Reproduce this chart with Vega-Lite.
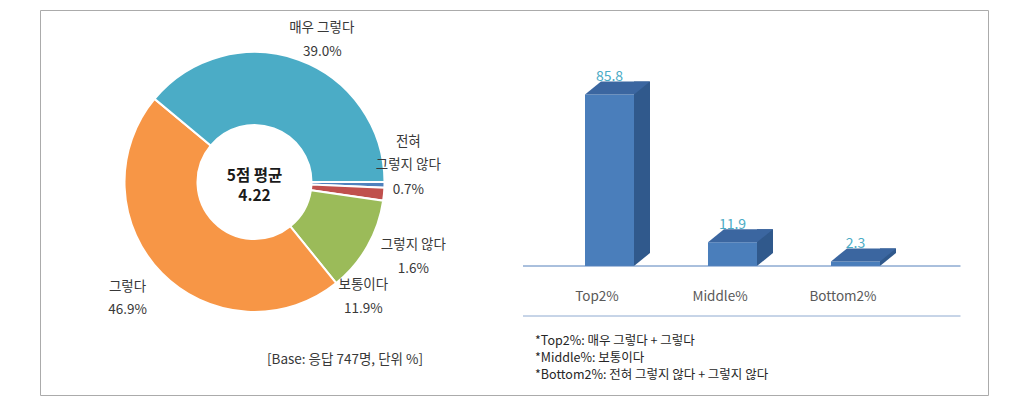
{
  "$schema": "https://vega.github.io/schema/vega-lite/v6.json",
  "width": 1025,
  "height": 404,
  "autosize": {"type": "fit", "contains": "padding"},
  "padding": {"left": 40, "top": 10, "right": 37, "bottom": 9},
  "background": "white",
  "config": {
    "view": {"stroke": "#ABABAB", "strokeWidth": 1},
    "font": "Noto Sans CJK KR",
    "text": {"font": "Noto Sans CJK KR"}
  },
  "datasets": {
    "answers": [
      {"answer": "전혀 그렇지 않다", "score": 1, "share": 0.007},
      {"answer": "그렇지 않다", "score": 2, "share": 0.016},
      {"answer": "보통이다", "score": 3, "share": 0.119},
      {"answer": "그렇다", "score": 4, "share": 0.469},
      {"answer": "매우 그렇다", "score": 5, "share": 0.390}
    ],
    "groups": [
      {"group": "Top2%", "value": 85.8},
      {"group": "Middle%", "value": 11.9},
      {"group": "Bottom2%", "value": 2.3}
    ]
  },
  "layer": [
    {
      "data": {"name": "answers"},
      "transform": [
        {"stack": "share", "groupby": [], "sort": [{"field": "score", "order": "ascending"}], "as": ["s0", "s1"]}
      ],
      "layer": [
        {
          "mark": {"type": "arc", "radius": 130, "radius2": 57, "stroke": "white", "strokeWidth": 2, "xOffset": -259.5, "yOffset": -20.5},
          "encoding": {
            "theta": {"field": "s0", "type": "quantitative", "scale": {"domain": [0, 1.001], "range": [1.5708, 7.854]}},
            "theta2": {"field": "s1"},
            "color": {
              "field": "answer",
              "type": "nominal",
              "legend": null,
              "scale": {
                "domain": ["전혀 그렇지 않다", "그렇지 않다", "보통이다", "그렇다", "매우 그렇다"],
                "range": ["#4F81BD", "#C0504D", "#9BBB59", "#F79646", "#4BACC6"]
              }
            }
          }
        },
        {
          "transform": [{"filter": "datum.score == 1"}],
          "layer": [
            {
              "mark": {"type": "text", "radius": 150, "xOffset": -259.5, "yOffset": -20.5, "dx": 3.8, "dy": -40, "fontSize": 13.5, "lineHeight": 23.3, "color": "#383838", "baseline": "middle"},
              "encoding": {"theta": {"field": "s0", "type": "quantitative"}, "text": {"value": ["전혀", "그렇지 않다"]}}
            },
            {
              "mark": {"type": "text", "radius": 150, "xOffset": -259.5, "yOffset": -20.5, "dx": 3.8, "dy": 7.7, "fontSize": 13.5, "color": "#383838", "baseline": "middle"},
              "encoding": {"theta": {"field": "s0", "type": "quantitative"}, "text": {"field": "share", "format": ".1%"}}
            }
          ]
        },
        {
          "transform": [{"filter": "datum.score == 2"}],
          "layer": [
            {
              "mark": {"type": "text", "radius": 150, "xOffset": -259.5, "yOffset": -20.5, "dx": 9, "dy": 56.7, "fontSize": 13.5, "color": "#383838", "baseline": "middle"},
              "encoding": {"theta": {"field": "s0", "type": "quantitative"}, "text": {"field": "answer"}}
            },
            {
              "mark": {"type": "text", "radius": 150, "xOffset": -259.5, "yOffset": -20.5, "dx": 9, "dy": 80.7, "fontSize": 13.5, "color": "#383838", "baseline": "middle"},
              "encoding": {"theta": {"field": "s0", "type": "quantitative"}, "text": {"field": "share", "format": ".1%"}}
            }
          ]
        },
        {
          "transform": [{"filter": "datum.score == 3"}],
          "layer": [
            {
              "mark": {"type": "text", "radius": 150, "xOffset": -259.5, "yOffset": -20.5, "dx": -39.6, "dy": 81.7, "fontSize": 13.5, "color": "#383838", "baseline": "middle"},
              "encoding": {"theta": {"field": "s0", "type": "quantitative"}, "text": {"field": "answer"}}
            },
            {
              "mark": {"type": "text", "radius": 150, "xOffset": -259.5, "yOffset": -20.5, "dx": -39.6, "dy": 105.1, "fontSize": 13.5, "color": "#383838", "baseline": "middle"},
              "encoding": {"theta": {"field": "s0", "type": "quantitative"}, "text": {"field": "share", "format": ".1%"}}
            }
          ]
        },
        {
          "transform": [{"filter": "datum.score == 4"}],
          "layer": [
            {
              "mark": {"type": "text", "radius": 150, "xOffset": -259.5, "yOffset": -20.5, "dx": -221.2, "dy": -11.5, "fontSize": 13.5, "color": "#383838", "baseline": "middle"},
              "encoding": {"theta": {"field": "s0", "type": "quantitative"}, "text": {"field": "answer"}}
            },
            {
              "mark": {"type": "text", "radius": 150, "xOffset": -259.5, "yOffset": -20.5, "dx": -221.2, "dy": 11.8, "fontSize": 13.5, "color": "#383838", "baseline": "middle"},
              "encoding": {"theta": {"field": "s0", "type": "quantitative"}, "text": {"field": "share", "format": ".1%"}}
            }
          ]
        },
        {
          "transform": [{"filter": "datum.score == 5"}],
          "layer": [
            {
              "mark": {"type": "text", "radius": 150, "xOffset": -259.5, "yOffset": -20.5, "dx": 182.6, "dy": -58.2, "fontSize": 13.5, "color": "#383838", "baseline": "middle"},
              "encoding": {"theta": {"field": "s0", "type": "quantitative"}, "text": {"field": "answer"}}
            },
            {
              "mark": {"type": "text", "radius": 150, "xOffset": -259.5, "yOffset": -20.5, "dx": 183.2, "dy": -34.2, "fontSize": 13.5, "color": "#383838", "baseline": "middle"},
              "encoding": {"theta": {"field": "s0", "type": "quantitative"}, "text": {"field": "share", "format": ".1%"}}
            }
          ]
        }
      ]
    },
    {
      "data": {"values": [{}]},
      "mark": {"type": "text", "xOffset": -259.5, "yOffset": -20.5, "dy": -6.5, "fontSize": 15.5, "fontWeight": "bold", "lineHeight": 20.5, "color": "#1A1A1A", "baseline": "middle"},
      "encoding": {"text": {"value": ["5점 평균", "4.22"]}}
    },
    {
      "data": {"values": [{}]},
      "mark": {"type": "text", "xOffset": -169, "yOffset": 157, "fontSize": 13.5, "color": "#383838", "baseline": "middle"},
      "encoding": {"text": {"value": "[Base: 응답 747명, 단위 %]"}}
    },
    {
      "data": {"name": "groups"},
      "encoding": {
        "x": {
          "field": "group",
          "type": "nominal",
          "sort": null,
          "axis": null,
          "scale": {"domain": ["Top2%", "Middle%", "Bottom2%"], "range": [545, 840], "paddingInner": 0.6016, "paddingOuter": 0}
        },
        "y": {"field": "value", "type": "quantitative", "axis": null, "scale": {"domain": [-64.5, 128], "zero": false, "nice": false}}
      },
      "layer": [
        {"mark": {"type": "bar", "color": "#4A7EBB"}, "encoding": {"y2": {"datum": 0}}},
        {"mark": {"type": "bar", "color": "#30598C", "width": 16, "xOffset": 32.5, "yOffset": -13, "y2Offset": -13}, "encoding": {"y2": {"datum": 0}}},
        {
          "mark": {"type": "point", "shape": "M-1,0L-1,-1.625L1,-1.625Z", "size": 256, "filled": true, "opacity": 1, "strokeWidth": 0, "color": "#30598C", "xOffset": 32.5},
          "encoding": {"y": {"datum": 0, "type": "quantitative"}}
        },
        {
          "mark": {"type": "point", "shape": "M-3.0625,0L3.0625,0L5.0625,-1.625L-1.0625,-1.625Z", "size": 256, "filled": true, "opacity": 1, "strokeWidth": 0, "color": "#3B66A0"}
        },
        {
          "mark": {"type": "text", "dy": -17, "fontSize": 14, "color": "#4BACC6", "baseline": "middle"},
          "encoding": {"text": {"field": "value", "format": ".1f"}}
        },
        {
          "mark": {"type": "text", "dy": 31, "xOffset": -12.5, "fontSize": 13.5, "color": "#595959", "baseline": "middle"},
          "encoding": {"y": {"datum": 0, "type": "quantitative"}, "text": {"field": "group"}}
        }
      ]
    },
    {
      "data": {"values": [{}]},
      "mark": {"type": "rule", "color": "#5580BB", "strokeWidth": 1, "xOffset": -86.5, "x2Offset": 105},
      "encoding": {
        "x": {"datum": "Top2%", "type": "nominal"},
        "x2": {"datum": "Bottom2%"},
        "y": {"datum": 0, "type": "quantitative"}
      }
    },
    {
      "data": {"values": [{}]},
      "mark": {"type": "rule", "color": "#8FAAD0", "strokeWidth": 1, "xOffset": -86.5, "x2Offset": 105},
      "encoding": {
        "x": {"datum": "Top2%", "type": "nominal"},
        "x2": {"datum": "Bottom2%"},
        "y": {"datum": -25, "type": "quantitative"}
      }
    },
    {
      "data": {"values": [{}]},
      "mark": {"type": "text", "align": "left", "baseline": "top", "xOffset": -74.5, "dy": 19, "fontSize": 12.5, "lineHeight": 17, "color": "#262626"},
      "encoding": {
        "x": {"datum": "Top2%", "type": "nominal"},
        "y": {"datum": -25, "type": "quantitative"},
        "text": {"value": ["*Top2%: 매우 그렇다 + 그렇다", "*Middle%: 보통이다", "*Bottom2%: 전혀 그렇지 않다 + 그렇지 않다"]}
      }
    }
  ]
}
